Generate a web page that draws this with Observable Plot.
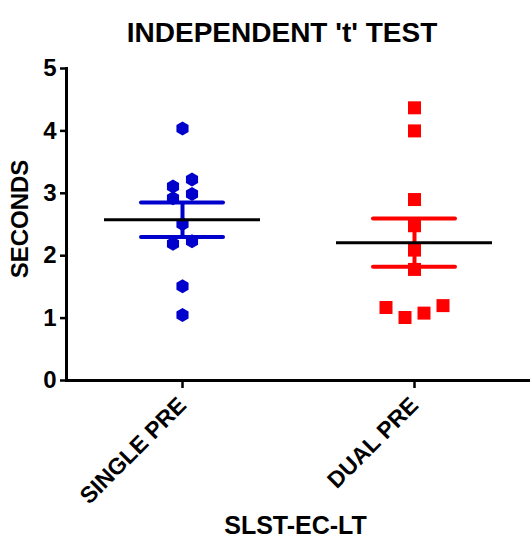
<!DOCTYPE html>
<html>
<head>
<meta charset="utf-8">
<script src="https://cdn.jsdelivr.net/npm/d3@7"></script>
<script src="https://cdn.jsdelivr.net/npm/@observablehq/plot@0.6"></script>
<style>
  html, body { margin: 0; padding: 0; background: #fff; }
</style>
</head>
<body>
<div id="chart"></div>
<script>
// ---- data (listed left-to-right within a row) ----
const groups = ["SINGLE PRE", "DUAL PRE"];
const singlePre = [4.04, 3.11, 3.22, 2.92, 2.99, 2.51, 2.19, 2.23, 1.51, 1.05];
const dualPre   = [4.37, 4.00, 2.90, 2.48, 2.09, 1.78, 1.17, 1.01, 1.08, 1.20];
const yTicks = [0, 1, 2, 3, 4, 5];
const titleText = "INDEPENDENT 't' TEST";
const yLabel = "SECONDS";
const xLabel = "SLST-EC-LT";

// column-scatter layout (rows of near-equal values spread sideways, like GraphPad)
function columnScatter(values, group, step) {
  const idx = values.map((v, i) => i).sort((a, b) => values[b] - values[a]);
  const rows = [];
  for (const i of idx) {
    const row = rows[rows.length - 1];
    if (row && values[row[0]] - values[i] < 0.2) row.push(i); else rows.push([i]);
  }
  const out = [];
  for (const row of rows) {
    row.sort((a, b) => a - b);
    row.forEach((i, k) => out.push({group, value: values[i], off: (k - (row.length - 1) / 2) * step}));
  }
  return out;
}
const seriesList = [singlePre, dualPre];
const points = groups.flatMap((g, i) => columnScatter(seriesList[i], g, 19));
const stats = groups.map((g, i) => {
  const v = seriesList[i];
  const m = d3.mean(v);
  const sem = d3.deviation(v) / Math.sqrt(v.length);
  return {group: g, mean: m, lo: m - sem, hi: m + sem};
});

// symbols
const hexPointy = {
  draw(ctx, size) {
    const r = Math.sqrt(size / Math.PI), w = r * Math.sqrt(3) / 2;
    ctx.moveTo(0, -r); ctx.lineTo(w, -r / 2); ctx.lineTo(w, r / 2);
    ctx.lineTo(0, r); ctx.lineTo(-w, r / 2); ctx.lineTo(-w, -r / 2); ctx.closePath();
  }
};
const squareSym = {
  draw(ctx, size) {
    const s = Math.sqrt(size / Math.PI);
    ctx.rect(-s, -s, 2 * s, 2 * s);
  }
};

const blue = "#0000cc", red = "#ff0000";
const colorOf = {"SINGLE PRE": blue, "DUAL PRE": red};

const chart = Plot.plot({
  width: 530,
  height: 550,
  marginTop: 68,
  marginBottom: 170,
  marginLeft: 66,
  marginRight: 0,
  style: {fontFamily: "'Liberation Sans', Arial, sans-serif", fontWeight: "bold", fontSize: "24px", color: "#000", background: "#fff"},
  fx: {domain: groups, padding: 0, axis: null, label: null},
  x: {domain: [-116, 116], axis: null},
  y: {domain: [0, 5], axis: null},
  marks: [
    Plot.axisY({ticks: yTicks, tickSize: 6, tickPadding: 4, strokeWidth: 2.5, fontSize: 24, label: null, tickFormat: d3.format("d")}),
    Plot.axisFx({anchor: "bottom", tickSize: 8, tickPadding: 13, strokeWidth: 2.5, tickRotate: -45, fontSize: 23, label: null}),
    Plot.frame({anchor: "left", strokeWidth: 3, facetAnchor: "left"}),
    Plot.ruleY([0], {strokeWidth: 3}),
    // titles as SVG text anchored to the left facet
    Plot.text([titleText], {frameAnchor: "top-right", textAnchor: "middle", dx: -16.5, dy: -46, fontSize: 28, fontWeight: "bold", facetAnchor: "left"}),
    Plot.text([yLabel], {frameAnchor: "left", textAnchor: "middle", rotate: -90, dx: -46.5, dy: -5.5, fontSize: 24, fontWeight: "bold", facetAnchor: "left"}),
    Plot.text([xLabel], {frameAnchor: "bottom-right", textAnchor: "middle", dx: -3, dy: 153, fontSize: 25, fontWeight: "bold", facetAnchor: "left"}),
    Plot.dot(points.filter(d => d.group === groups[0]), {fx: "group", x: "off", y: "value", r: 7, symbol: hexPointy, fill: blue, stroke: "none"}),
    Plot.dot(points.filter(d => d.group === groups[1]), {fx: "group", x: "off", y: "value", r: 6.5, symbol: squareSym, fill: red, stroke: "none"}),
    Plot.ruleX(stats, {fx: "group", x: () => 0, y1: "lo", y2: "hi", stroke: d => colorOf[d.group], strokeWidth: 4}),
    Plot.ruleY(stats, {fx: "group", x1: () => -41, x2: () => 41, y: "lo", stroke: d => colorOf[d.group], strokeWidth: 4, strokeLinecap: "round"}),
    Plot.ruleY(stats, {fx: "group", x1: () => -41, x2: () => 41, y: "hi", stroke: d => colorOf[d.group], strokeWidth: 4, strokeLinecap: "round"}),
    Plot.ruleY(stats, {fx: "group", x1: () => -78, x2: () => 78, y: "mean", stroke: "#000", strokeWidth: 3})
  ]
});
document.getElementById("chart").appendChild(chart);
</script>
</body>
</html>
